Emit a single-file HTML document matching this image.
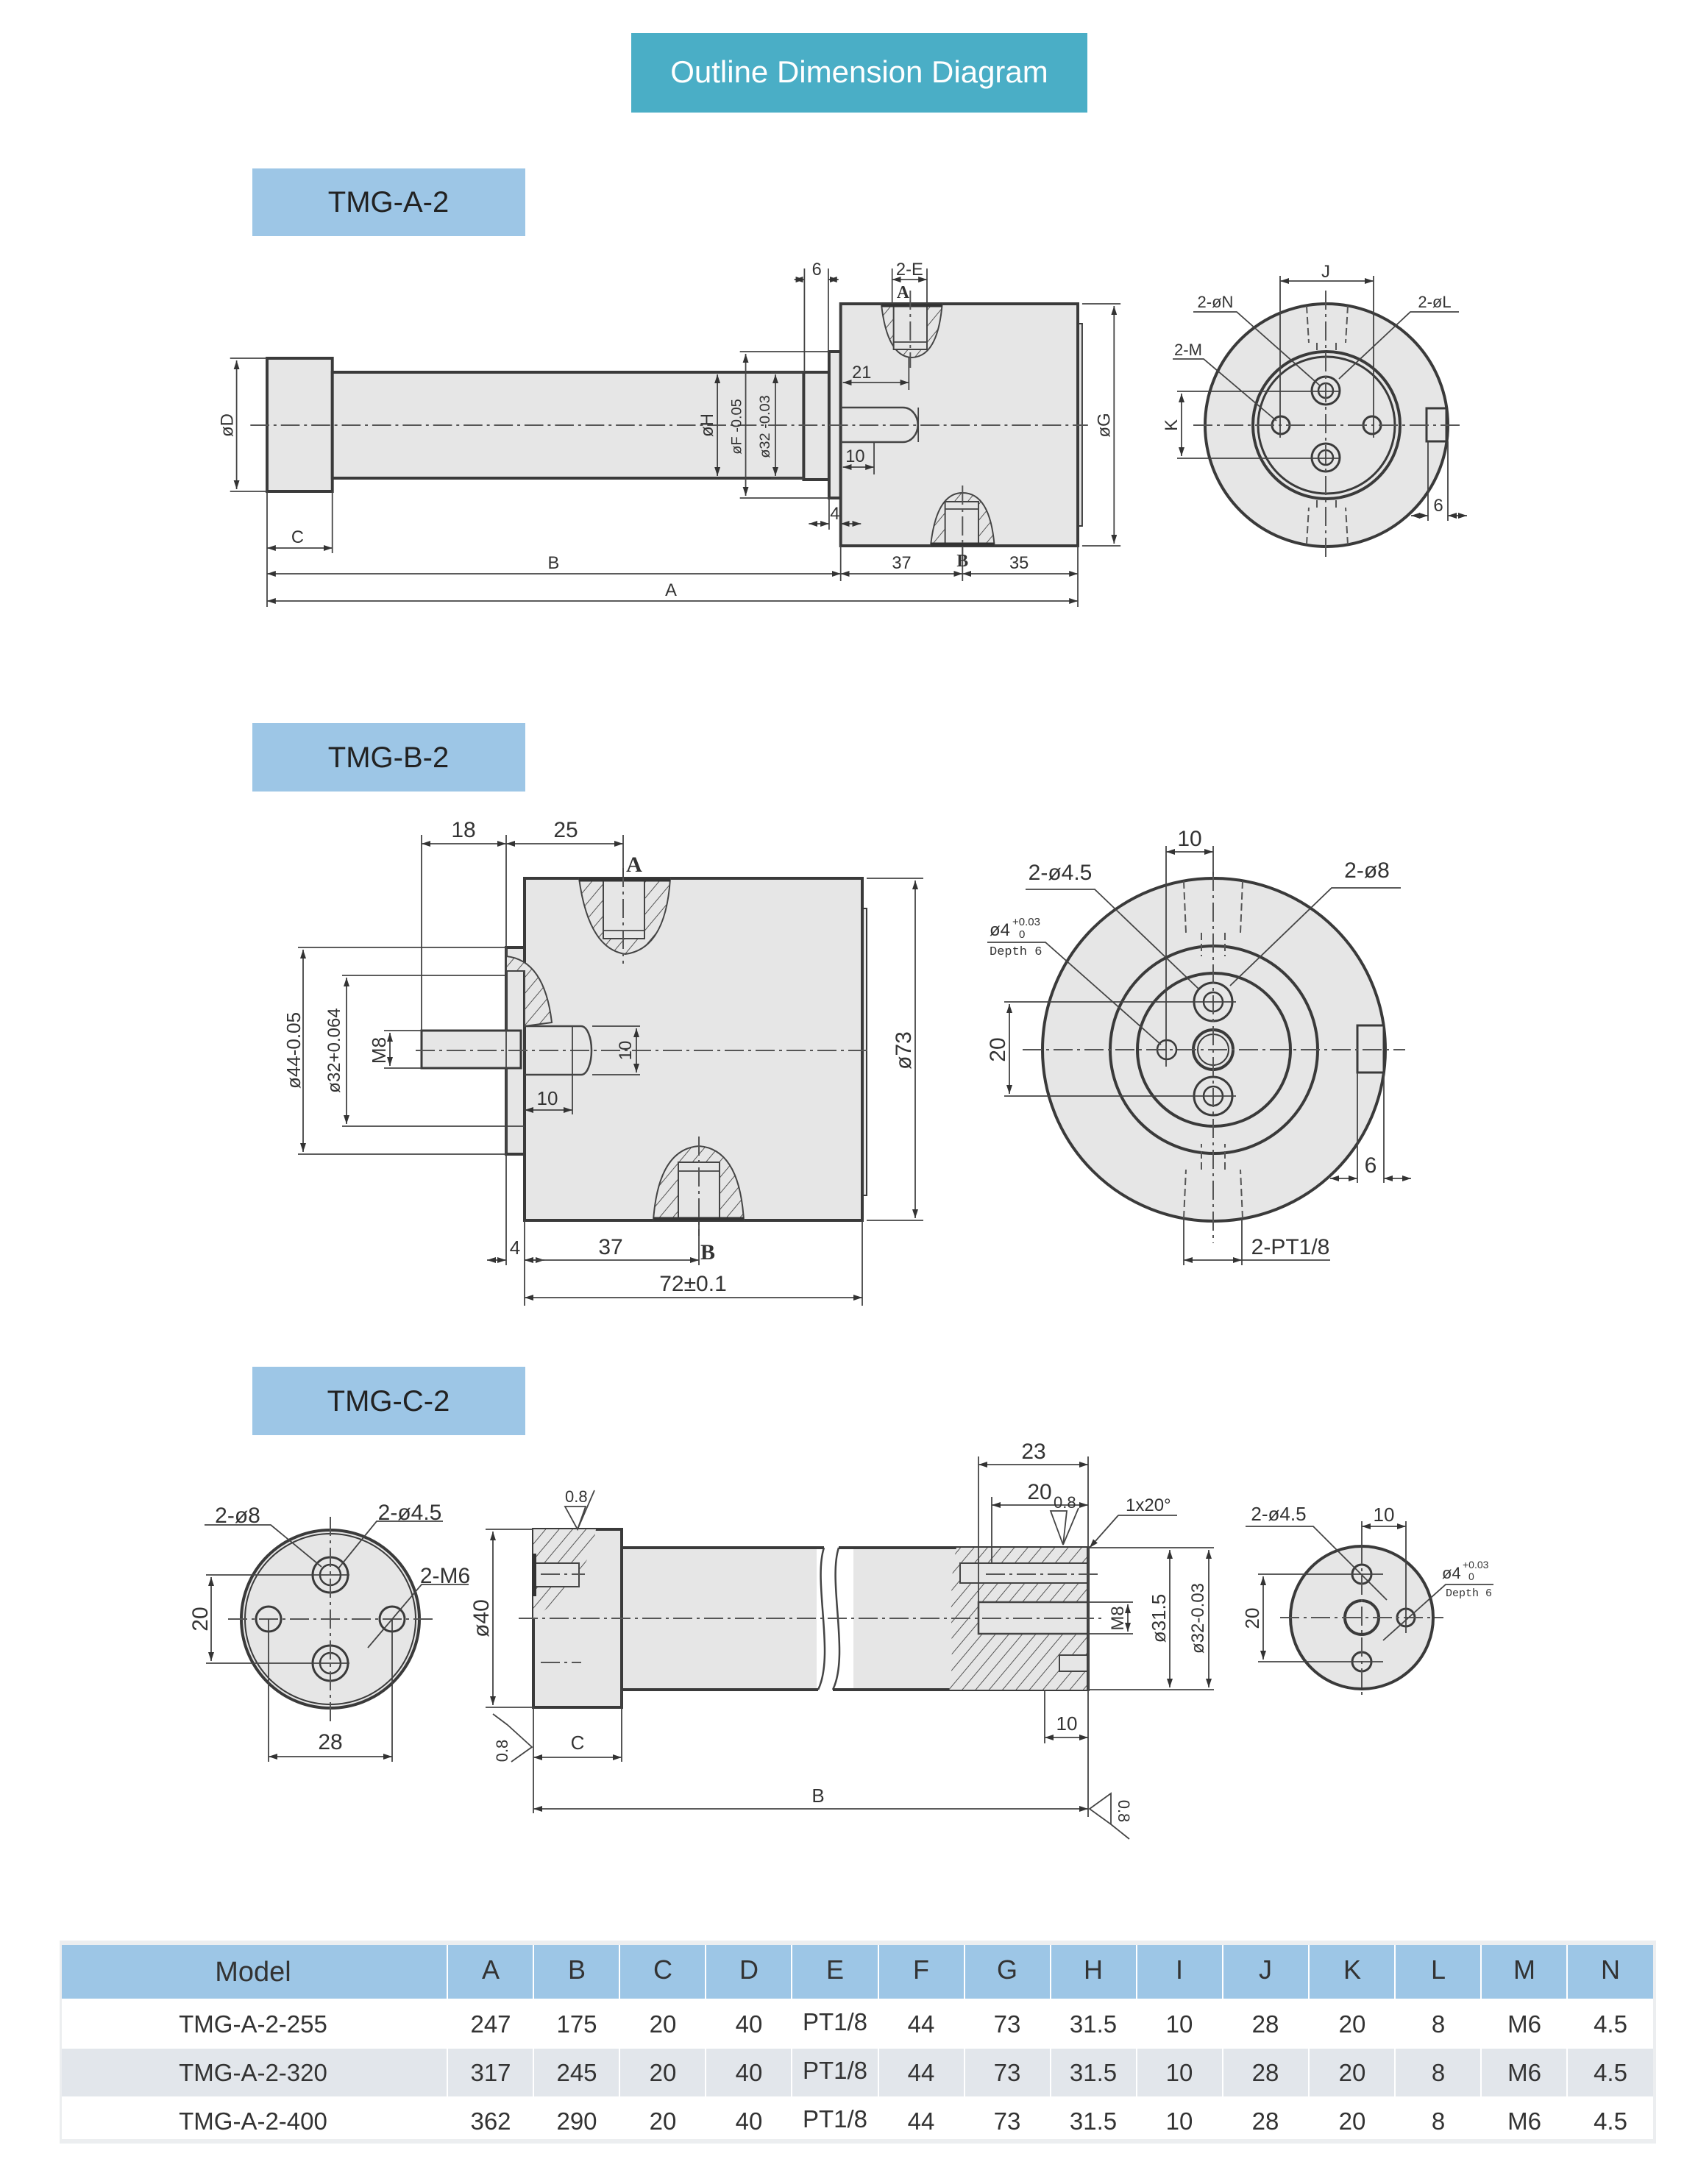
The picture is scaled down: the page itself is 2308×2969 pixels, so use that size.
<!DOCTYPE html>
<html><head><meta charset="utf-8"><style>
html,body{margin:0;padding:0;background:#fff;}
svg{display:block;}
text{font-family:"Liberation Sans",sans-serif;fill:#333;}
.o{fill:#e6e6e6;stroke:#3a3a3a;stroke-width:4;}
.l{stroke:#444;stroke-width:1.8;fill:none;}
.d{stroke:#444;stroke-width:1.8;fill:none;marker-start:url(#ar);marker-end:url(#ar);}
.c{stroke:#555;stroke-width:2;fill:none;stroke-dasharray:26 6 4 6;}
.ds{stroke:#555;stroke-width:2;fill:none;stroke-dasharray:10 5;}
.t{font-size:24px;fill:#333;}
.t2{font-size:30px;fill:#333;}
.hz{fill:url(#h);stroke:#444;stroke-width:2;}
</style></head><body>
<svg width="2308" height="2969" viewBox="0 0 2308 2969" xmlns="http://www.w3.org/2000/svg">
<defs>
<marker id="ar" viewBox="0 0 12 8" refX="12" refY="4" markerWidth="12" markerHeight="8" markerUnits="userSpaceOnUse" orient="auto-start-reverse"><path d="M0,0 L12,4 L0,8 z" fill="#333"/></marker>
<pattern id="h" width="14" height="14" patternUnits="userSpaceOnUse" patternTransform="rotate(40)"><rect width="14" height="14" fill="#e6e6e6"/><line x1="0" y1="0" x2="0" y2="14" stroke="#555" stroke-width="2"/></pattern>
</defs>

<!-- Title -->
<rect x="858" y="45" width="620" height="108" fill="#4aaec6"/>
<text x="1168" y="112" text-anchor="middle" style="font-size:42px;fill:#fff">Outline Dimension Diagram</text>

<!-- Section labels -->
<rect x="343" y="229" width="371" height="92" fill="#9dc6e6"/>
<text x="528" y="288" text-anchor="middle" style="font-size:40px;fill:#222">TMG-A-2</text>
<rect x="343" y="983" width="371" height="93" fill="#9dc6e6"/>
<text x="528" y="1043" text-anchor="middle" style="font-size:40px;fill:#222">TMG-B-2</text>
<rect x="343" y="1858" width="371" height="93" fill="#9dc6e6"/>
<text x="528" y="1918" text-anchor="middle" style="font-size:40px;fill:#222">TMG-C-2</text>

<!-- ===== TMG-A-2 side view ===== -->
<g transform="translate(363,0) scale(0.9857,1) translate(-363,0)">
<rect class="o" x="363" y="487" width="90" height="181"/>
<rect class="o" x="453" y="506" width="650" height="144"/>
<rect class="o" x="1103" y="506" width="35" height="146"/>
<rect class="o" x="1138" y="478" width="16" height="199"/>
<rect class="o" x="1481" y="440" width="6" height="275" style="stroke-width:2"/>
<rect class="o" x="1154" y="413" width="327" height="329"/>
<path class="hz" d="M1210,413 Q1218,485 1252,486 Q1288,485 1294,413 Z"/>
<rect x="1227" y="413" width="46" height="62" fill="#e6e6e6" stroke="#444" stroke-width="2"/>
<line class="l" x1="1227" y1="465" x2="1273" y2="465"/>
<path class="hz" d="M1278,742 Q1286,670 1322,670 Q1360,670 1366,742 Z"/>
<rect x="1298" y="682" width="46" height="60" fill="#e6e6e6" stroke="#444" stroke-width="2"/>
<line class="l" x1="1298" y1="692" x2="1344" y2="692"/>
<line x1="1278" y1="740" x2="1366" y2="740" stroke="#333" stroke-width="5"/>
<line x1="1210" y1="415" x2="1294" y2="415" stroke="#333" stroke-width="5"/>
<path class="l" style="stroke-width:2.5" d="M1154,554 H1240 A20,23 0 0 1 1240,601 H1154"/>
<line class="c" x1="340" y1="578" x2="1495" y2="578"/>
<line class="c" x1="1250" y1="395" x2="1250" y2="500"/>
<line class="c" x1="1322" y1="660" x2="1322" y2="760"/>
<line class="l" x1="312" y1="487" x2="363" y2="487"/><line class="l" x1="312" y1="668" x2="363" y2="668"/>
<line class="d" x1="321" y1="490" x2="321" y2="665"/>
<text class="t" transform="translate(316,578) rotate(-90)" text-anchor="middle">øD</text>
<line class="d" x1="984" y1="509" x2="984" y2="647"/>
<text class="t" transform="translate(978,578) rotate(-90)" text-anchor="middle">øH</text>
<line class="l" x1="1015" y1="478" x2="1138" y2="478"/><line class="l" x1="1015" y1="677" x2="1138" y2="677"/>
<line class="d" x1="1023" y1="481" x2="1023" y2="674"/>
<text class="t" style="font-size:20px" transform="translate(1017,580) rotate(-90)" text-anchor="middle">øF -0.05</text>
<line class="l" x1="1058" y1="506" x2="1103" y2="506"/><line class="l" x1="1058" y1="650" x2="1103" y2="650"/>
<line class="d" x1="1064" y1="509" x2="1064" y2="647"/>
<text class="t" style="font-size:20px" transform="translate(1056,580) rotate(-90)" text-anchor="middle">ø32 -0.03</text>
<line class="l" x1="1487" y1="413" x2="1540" y2="413"/><line class="l" x1="1487" y1="742" x2="1540" y2="742"/>
<line class="d" x1="1531" y1="416" x2="1531" y2="739"/>
<text class="t" transform="translate(1525,578) rotate(-90)" text-anchor="middle">øG</text>
<line class="l" x1="1104" y1="365" x2="1104" y2="506"/><line class="l" x1="1137" y1="365" x2="1137" y2="478"/>
<line class="d" x1="1090" y1="380" x2="1104" y2="380"/><line class="d" x1="1151" y1="380" x2="1137" y2="380"/>
<text class="t" x="1121" y="374" text-anchor="middle">6</text>
<line class="l" x1="1225" y1="365" x2="1225" y2="413"/><line class="l" x1="1273" y1="365" x2="1273" y2="413"/>
<line class="d" x1="1225" y1="380" x2="1273" y2="380"/>
<text class="t" x="1249" y="374" text-anchor="middle">2-E</text>
<text class="t" x="1240" y="405" text-anchor="middle" style="font-weight:bold;font-family:'Liberation Serif',serif">A</text>
<line class="l" x1="1248" y1="485" x2="1248" y2="530"/>
<line class="d" x1="1157" y1="520" x2="1248" y2="520"/>
<text class="t" x="1183" y="514" text-anchor="middle">21</text>
<line class="l" x1="1200" y1="601" x2="1200" y2="645"/>
<line class="d" x1="1157" y1="635" x2="1200" y2="635"/>
<text class="t" x="1174" y="628" text-anchor="middle">10</text>
<line class="l" x1="1261" y1="554" x2="1261" y2="601"/>
<line class="l" x1="1138" y1="677" x2="1138" y2="720"/>
<line class="d" x1="1110" y1="712" x2="1138" y2="712"/><line class="d" x1="1182" y1="712" x2="1154" y2="712"/>
<text class="t" x="1146" y="706" text-anchor="middle">4</text>
<line class="l" x1="363" y1="668" x2="363" y2="825"/><line class="l" x1="453" y1="668" x2="453" y2="752"/>
<line class="l" x1="1154" y1="742" x2="1154" y2="790"/><line class="l" x1="1481" y1="742" x2="1481" y2="825"/>
<line class="l" x1="1322" y1="742" x2="1322" y2="790"/>
<line class="d" x1="363" y1="745" x2="453" y2="745"/>
<text class="t" x="405" y="738" text-anchor="middle">C</text>
<line class="d" x1="363" y1="780" x2="1154" y2="780"/>
<text class="t" x="758" y="773" text-anchor="middle">B</text>
<line class="d" x1="1154" y1="780" x2="1322" y2="780"/>
<text class="t" x="1238" y="773" text-anchor="middle">37</text>
<line class="d" x1="1322" y1="780" x2="1481" y2="780"/>
<text class="t" x="1400" y="773" text-anchor="middle">35</text>
<text class="t" x="1322" y="770" text-anchor="middle" style="font-weight:bold;font-family:'Liberation Serif',serif">B</text>
<line class="d" x1="363" y1="817" x2="1481" y2="817"/>
<text class="t" x="920" y="810" text-anchor="middle">A</text>
</g>

<!-- ===== TMG-A-2 end view ===== -->
<circle class="o" cx="1803" cy="578" r="165"/>
<circle cx="1803" cy="578" r="100" fill="none" stroke="#3a3a3a" stroke-width="4"/>
<circle cx="1803" cy="578" r="93" fill="none" stroke="#3a3a3a" stroke-width="3"/>
<circle cx="1802" cy="531" r="19" fill="none" stroke="#3a3a3a" stroke-width="3"/>
<circle cx="1802" cy="531" r="10" fill="none" stroke="#3a3a3a" stroke-width="2.5"/>
<circle cx="1802" cy="622" r="19" fill="none" stroke="#3a3a3a" stroke-width="3"/>
<circle cx="1802" cy="622" r="10" fill="none" stroke="#3a3a3a" stroke-width="2.5"/>
<circle cx="1741" cy="578" r="12" fill="none" stroke="#3a3a3a" stroke-width="3"/>
<circle cx="1865" cy="578" r="12" fill="none" stroke="#3a3a3a" stroke-width="3"/>
<rect x="1939" y="555" width="27" height="45" fill="#e6e6e6" stroke="#3a3a3a" stroke-width="3"/>
<path class="ds" d="M1776,416 L1779,466 M1832,416 L1829,466 M1790,466 V476 M1816,466 V476"/>
<path class="ds" d="M1776,740 L1779,690 M1832,740 L1829,690 M1790,690 V680 M1816,690 V680"/>
<line class="c" x1="1622" y1="578" x2="1985" y2="578"/>
<line class="c" x1="1802" y1="395" x2="1802" y2="760"/>
<line class="l" x1="1740" y1="375" x2="1740" y2="595"/><line class="l" x1="1867" y1="375" x2="1867" y2="595"/>
<line class="d" x1="1740" y1="382" x2="1867" y2="382"/>
<text class="t" x="1802" y="377" text-anchor="middle">J</text>
<line class="l" x1="1600" y1="532" x2="1820" y2="532"/><line class="l" x1="1600" y1="623" x2="1820" y2="623"/>
<line class="d" x1="1606" y1="535" x2="1606" y2="620"/>
<text class="t" transform="translate(1600,578) rotate(-90)" text-anchor="middle">K</text>
<line class="l" x1="1941" y1="600" x2="1941" y2="708"/><line class="l" x1="1968" y1="600" x2="1968" y2="708"/>
<line class="d" x1="1918" y1="701" x2="1941" y2="701"/><line class="d" x1="1994" y1="701" x2="1968" y2="701"/>
<text class="t" x="1955" y="695" text-anchor="middle">6</text>
<text class="t" x="1652" y="418" text-anchor="middle" style="font-size:22px">2-øN</text>
<polyline class="l" points="1622,424 1681,424 1795,525"/>
<text class="t" x="1950" y="418" text-anchor="middle" style="font-size:22px">2-øL</text>
<polyline class="l" points="1983,424 1917,424 1820,515"/>
<text class="t" x="1615" y="483" text-anchor="middle" style="font-size:22px">2-M</text>
<polyline class="l" points="1594,488 1636,488 1735,572"/>

<!-- ===== TMG-B-2 side view ===== -->
<rect class="o" x="688" y="1288" width="25" height="281"/>
<rect class="o" x="1172" y="1235" width="6" height="390" style="stroke-width:2"/>
<rect class="o" x="713" y="1194" width="459" height="465"/>
<rect class="o" x="573" y="1401" width="135" height="51" style="stroke-width:3"/>
<path class="hz" d="M688,1300 Q740,1305 750,1390 L713,1395 L713,1320 L688,1320 Z"/>
<path class="l" style="stroke-width:2.5" d="M713,1395 H790 A14,33 0 0 1 790,1461 H713"/>
<path class="hz" d="M787,1194 Q800,1290 850,1297 Q905,1290 911,1194 Z"/>
<rect x="820" y="1194" width="56" height="82" fill="#e6e6e6" stroke="#444" stroke-width="2"/>
<line class="l" x1="820" y1="1265" x2="876" y2="1265"/>
<line x1="787" y1="1196" x2="911" y2="1196" stroke="#333" stroke-width="5"/>
<path class="hz" d="M888,1659 Q895,1562 950,1558 Q1005,1562 1011,1659 Z"/>
<rect x="922" y="1580" width="56" height="79" fill="#e6e6e6" stroke="#444" stroke-width="2"/>
<line class="l" x1="922" y1="1592" x2="978" y2="1592"/>
<line x1="888" y1="1657" x2="1011" y2="1657" stroke="#333" stroke-width="5"/>
<line class="c" x1="565" y1="1428" x2="1185" y2="1428"/>
<line class="c" x1="847" y1="1180" x2="847" y2="1310"/>
<line class="c" x1="950" y1="1545" x2="950" y2="1680"/>
<line class="l" x1="573" y1="1135" x2="573" y2="1401"/><line class="l" x1="688" y1="1135" x2="688" y2="1720"/>
<line class="l" x1="847" y1="1135" x2="847" y2="1194"/>
<line class="d" x1="573" y1="1147" x2="688" y2="1147"/>
<text class="t2" x="630" y="1138" text-anchor="middle">18</text>
<line class="d" x1="688" y1="1147" x2="847" y2="1147"/>
<text class="t2" x="769" y="1138" text-anchor="middle">25</text>
<text class="t2" x="862" y="1185" text-anchor="middle" style="font-weight:bold;font-family:'Liberation Serif',serif">A</text>
<text class="t2" x="962" y="1712" text-anchor="middle" style="font-weight:bold;font-family:'Liberation Serif',serif">B</text>
<line class="l" x1="405" y1="1288" x2="688" y2="1288"/><line class="l" x1="405" y1="1569" x2="688" y2="1569"/>
<line class="d" x1="412" y1="1291" x2="412" y2="1566"/>
<text class="t2" style="font-size:26px" transform="translate(408,1428) rotate(-90)" text-anchor="middle">ø44-0.05</text>
<line class="l" x1="465" y1="1326" x2="688" y2="1326"/><line class="l" x1="465" y1="1531" x2="713" y2="1531"/>
<line class="d" x1="471" y1="1329" x2="471" y2="1528"/>
<text class="t2" style="font-size:24px" transform="translate(462,1428) rotate(-90)" text-anchor="middle">ø32+0.064</text>
<line class="l" x1="522" y1="1401" x2="573" y2="1401"/><line class="l" x1="522" y1="1452" x2="573" y2="1452"/>
<line class="d" x1="530" y1="1404" x2="530" y2="1449"/>
<text class="t2" style="font-size:26px" transform="translate(524,1428) rotate(-90)" text-anchor="middle">M8</text>
<line class="l" x1="805" y1="1395" x2="870" y2="1395"/><line class="l" x1="805" y1="1461" x2="870" y2="1461"/>
<line class="d" x1="865" y1="1398" x2="865" y2="1458"/>
<text class="t2" style="font-size:24px" transform="translate(858,1428) rotate(-90)" text-anchor="middle">10</text>
<line class="l" x1="778" y1="1395" x2="778" y2="1515"/>
<line class="d" x1="713" y1="1509" x2="778" y2="1509"/>
<text class="t2" x="744" y="1502" text-anchor="middle" style="font-size:26px">10</text>
<line class="l" x1="1178" y1="1194" x2="1255" y2="1194"/><line class="l" x1="1178" y1="1659" x2="1255" y2="1659"/>
<line class="d" x1="1244" y1="1197" x2="1244" y2="1656"/>
<text class="t2" transform="translate(1238,1428) rotate(-90)" text-anchor="middle">ø73</text>
<line class="l" x1="713" y1="1659" x2="713" y2="1775"/><line class="l" x1="1172" y1="1659" x2="1172" y2="1775"/>
<line class="l" x1="950" y1="1659" x2="950" y2="1720"/>
<line class="d" x1="662" y1="1713" x2="688" y2="1713"/><line class="d" x1="740" y1="1713" x2="713" y2="1713"/>
<text class="t2" x="700" y="1705" text-anchor="middle" style="font-size:26px">4</text>
<line class="d" x1="713" y1="1713" x2="950" y2="1713"/>
<text class="t2" x="830" y="1705" text-anchor="middle">37</text>
<line class="d" x1="713" y1="1764" x2="1172" y2="1764"/>
<text class="t2" x="942" y="1755" text-anchor="middle">72±0.1</text>

<!-- ===== TMG-B-2 end view ===== -->
<circle class="o" cx="1650" cy="1427" r="233"/>
<circle cx="1650" cy="1427" r="141" fill="none" stroke="#3a3a3a" stroke-width="4"/>
<circle cx="1650" cy="1427" r="104" fill="none" stroke="#3a3a3a" stroke-width="4"/>
<circle cx="1649" cy="1427" r="27" fill="none" stroke="#3a3a3a" stroke-width="4"/>
<circle cx="1649" cy="1427" r="21" fill="none" stroke="#3a3a3a" stroke-width="2"/>
<circle cx="1649" cy="1362" r="26" fill="none" stroke="#3a3a3a" stroke-width="3"/>
<circle cx="1649" cy="1362" r="13" fill="none" stroke="#3a3a3a" stroke-width="2.5"/>
<circle cx="1649" cy="1490" r="26" fill="none" stroke="#3a3a3a" stroke-width="3"/>
<circle cx="1649" cy="1490" r="13" fill="none" stroke="#3a3a3a" stroke-width="2.5"/>
<circle cx="1586" cy="1427" r="13" fill="none" stroke="#3a3a3a" stroke-width="2.5"/>
<rect x="1845" y="1394" width="36" height="64" fill="#e6e6e6" stroke="#3a3a3a" stroke-width="3"/>
<path class="ds" d="M1609,1198 L1612,1268 M1689,1198 L1686,1268 M1633,1268 V1300 M1665,1268 V1300"/>
<path class="ds" d="M1609,1656 L1612,1590 M1689,1656 L1686,1590 M1633,1590 V1555 M1665,1590 V1555"/>
<line class="c" x1="1390" y1="1427" x2="1910" y2="1427"/>
<line class="c" x1="1649" y1="1185" x2="1649" y2="1690"/>
<line class="l" x1="1585" y1="1150" x2="1585" y2="1450"/><line class="l" x1="1649" y1="1150" x2="1649" y2="1190"/>
<line class="d" x1="1585" y1="1158" x2="1649" y2="1158"/>
<text class="t2" x="1617" y="1150" text-anchor="middle">10</text>
<line class="l" x1="1365" y1="1362" x2="1680" y2="1362"/><line class="l" x1="1365" y1="1490" x2="1680" y2="1490"/>
<line class="d" x1="1372" y1="1365" x2="1372" y2="1487"/>
<text class="t2" transform="translate(1366,1427) rotate(-90)" text-anchor="middle">20</text>
<line class="l" x1="1845" y1="1458" x2="1845" y2="1608"/><line class="l" x1="1881" y1="1458" x2="1881" y2="1608"/>
<line class="d" x1="1808" y1="1602" x2="1845" y2="1602"/><line class="d" x1="1918" y1="1602" x2="1881" y2="1602"/>
<text class="t2" x="1863" y="1594" text-anchor="middle">6</text>
<line class="l" x1="1609" y1="1656" x2="1609" y2="1720"/><line class="l" x1="1688" y1="1656" x2="1688" y2="1720"/>
<line class="d" x1="1609" y1="1713" x2="1688" y2="1713"/>
<line class="l" x1="1688" y1="1713" x2="1808" y2="1713"/>
<text class="t2" x="1754" y="1705" text-anchor="middle">2-PT1/8</text>
<text class="t2" x="1441" y="1196" text-anchor="middle">2-ø4.5</text>
<polyline class="l" points="1394,1209 1488,1209 1630,1345"/>
<text class="t2" x="1858" y="1193" text-anchor="middle">2-ø8</text>
<polyline class="l" points="1904,1207 1810,1207 1672,1340"/>
<text x="1345" y="1272" style="font-size:24px;fill:#333">ø4</text>
<text x="1376" y="1258" style="font-size:15px;fill:#333">+0.03</text>
<text x="1385" y="1275" style="font-size:15px;fill:#333">0</text>
<text x="1345" y="1298" style="font-size:17px;fill:#333;font-family:'Liberation Mono',monospace">Depth 6</text>
<polyline class="l" points="1342,1281 1421,1281 1578,1420"/>

<!-- ===== TMG-C-2 end view left ===== -->
<circle class="o" cx="449" cy="2201" r="121"/>
<circle cx="449" cy="2201" r="116" fill="none" stroke="#3a3a3a" stroke-width="2"/>
<circle cx="449" cy="2141" r="24" fill="none" stroke="#3a3a3a" stroke-width="3"/>
<circle cx="449" cy="2141" r="14" fill="none" stroke="#3a3a3a" stroke-width="2.5"/>
<circle cx="449" cy="2261" r="24" fill="none" stroke="#3a3a3a" stroke-width="3"/>
<circle cx="449" cy="2261" r="14" fill="none" stroke="#3a3a3a" stroke-width="2.5"/>
<circle cx="365" cy="2201" r="17" fill="none" stroke="#3a3a3a" stroke-width="3"/>
<circle cx="533" cy="2201" r="17" fill="none" stroke="#3a3a3a" stroke-width="3"/>
<line class="c" x1="310" y1="2201" x2="588" y2="2201"/>
<line class="c" x1="449" y1="2062" x2="449" y2="2340"/>
<line class="l" x1="280" y1="2141" x2="475" y2="2141"/><line class="l" x1="280" y1="2261" x2="475" y2="2261"/>
<line class="d" x1="287" y1="2144" x2="287" y2="2258"/>
<text class="t2" transform="translate(282,2201) rotate(-90)" text-anchor="middle">20</text>
<line class="l" x1="365" y1="2201" x2="365" y2="2395"/><line class="l" x1="533" y1="2201" x2="533" y2="2395"/>
<line class="d" x1="365" y1="2388" x2="533" y2="2388"/>
<text class="t2" x="449" y="2378" text-anchor="middle">28</text>
<text class="t2" x="323" y="2070" text-anchor="middle">2-ø8</text>
<polyline class="l" points="278,2073 368,2073 437,2130"/>
<text class="t2" x="557" y="2066" text-anchor="middle">2-ø4.5</text>
<polyline class="l" points="602,2068 512,2068 460,2132"/>
<text class="t2" x="605" y="2152" text-anchor="middle">2-M6</text>
<polyline class="l" points="637,2154 573,2154 500,2240"/>

<!-- ===== TMG-C-2 side view ===== -->
<rect class="o" x="845" y="2104" width="275" height="193"/>
<rect class="o" x="1153" y="2104" width="326" height="193"/>
<rect x="1110" y="2100" width="50" height="200" fill="#fff"/>
<path d="M1120,2104 C1105,2150 1135,2250 1112,2297" fill="none" stroke="#444" stroke-width="2.5"/>
<path d="M1140,2104 C1125,2150 1155,2250 1132,2297" fill="none" stroke="#444" stroke-width="2.5"/>
<line x1="845" y1="2104" x2="1120" y2="2104" stroke="#3a3a3a" stroke-width="4"/>
<line x1="845" y1="2297" x2="1112" y2="2297" stroke="#3a3a3a" stroke-width="4"/>
<line x1="1140" y1="2104" x2="1479" y2="2104" stroke="#3a3a3a" stroke-width="4"/>
<line x1="1132" y1="2297" x2="1479" y2="2297" stroke="#3a3a3a" stroke-width="4"/>
<path d="M1300,2104 H1479 V2297 H1290 C1300,2250 1285,2170 1300,2104 Z" fill="url(#h)" stroke="none"/>
<rect x="1305" y="2125" width="174" height="27" fill="#e6e6e6" stroke="#444" stroke-width="2"/>
<rect x="1330" y="2178" width="149" height="43" fill="#e6e6e6" stroke="#444" stroke-width="2.5"/>
<rect x="1440" y="2250" width="39" height="22" fill="#e6e6e6" stroke="#444" stroke-width="2"/>
<line x1="1479" y1="2104" x2="1479" y2="2297" stroke="#3a3a3a" stroke-width="4"/>
<rect class="o" x="725" y="2079" width="120" height="242"/>
<path d="M725,2079 H810 Q800,2150 725,2200 Z" fill="url(#h)" stroke="none"/>
<rect x="727" y="2125" width="60" height="32" fill="#e6e6e6" stroke="#444" stroke-width="2"/>
<rect x="723" y="2112" width="6" height="58" fill="#333"/>
<line class="c" x1="705" y1="2200" x2="1500" y2="2200"/>
<line class="c" x1="735" y1="2140" x2="795" y2="2140"/>
<line class="c" x1="735" y1="2260" x2="790" y2="2260"/>
<line class="c" x1="1340" y1="2140" x2="1492" y2="2140"/>
<line class="l" x1="660" y1="2079" x2="725" y2="2079"/><line class="l" x1="660" y1="2321" x2="725" y2="2321"/>
<line class="d" x1="670" y1="2082" x2="670" y2="2318"/>
<text class="t2" transform="translate(664,2200) rotate(-90)" text-anchor="middle">ø40</text>
<line class="l" x1="1479" y1="2104" x2="1650" y2="2104"/><line class="l" x1="1479" y1="2297" x2="1650" y2="2297"/>
<line class="d" x1="1590" y1="2107" x2="1590" y2="2294"/>
<text class="t2" style="font-size:26px" transform="translate(1584,2200) rotate(-90)" text-anchor="middle">ø31.5</text>
<line class="d" x1="1643" y1="2107" x2="1643" y2="2294"/>
<text class="t2" style="font-size:24px" transform="translate(1636,2200) rotate(-90)" text-anchor="middle">ø32-0.03</text>
<line class="l" x1="1479" y1="2178" x2="1540" y2="2178"/><line class="l" x1="1479" y1="2221" x2="1540" y2="2221"/>
<line class="d" x1="1533" y1="2181" x2="1533" y2="2218"/>
<text class="t2" style="font-size:24px" transform="translate(1527,2200) rotate(-90)" text-anchor="middle">M8</text>
<line class="l" x1="1330" y1="1980" x2="1330" y2="2178"/><line class="l" x1="1348" y1="2035" x2="1348" y2="2125"/>
<line class="l" x1="1479" y1="1980" x2="1479" y2="2470"/>
<line class="d" x1="1330" y1="1991" x2="1479" y2="1991"/>
<text class="t2" x="1405" y="1983" text-anchor="middle">23</text>
<line class="d" x1="1348" y1="2046" x2="1479" y2="2046"/>
<text class="t2" x="1413" y="2038" text-anchor="middle">20</text>
<text class="t2" x="1530" y="2054" style="font-size:24px">1x20°</text>
<line class="l" x1="1520" y1="2060" x2="1600" y2="2060"/>
<line class="l" x1="1520" y1="2060" x2="1481" y2="2104" style="marker-end:url(#ar)"/>
<path class="l" d="M1428,2054 H1450 L1445,2100 Z M1445,2100 L1466,2050" />
<text class="t" x="1432" y="2050" style="font-size:22px">0.8</text>
<path class="l" d="M768,2048 H796 L785,2079 Z M785,2079 L808,2026"/>
<text class="t" x="768" y="2042" style="font-size:22px">0.8</text>
<line class="l" x1="1420" y1="2297" x2="1420" y2="2370"/>
<line class="d" x1="1420" y1="2362" x2="1479" y2="2362"/>
<text class="t2" x="1450" y="2352" text-anchor="middle" style="font-size:26px">10</text>
<line class="l" x1="725" y1="2321" x2="725" y2="2465"/><line class="l" x1="845" y1="2297" x2="845" y2="2395"/>
<line class="d" x1="725" y1="2389" x2="845" y2="2389"/>
<text class="t2" x="785" y="2378" text-anchor="middle" style="font-size:26px">C</text>
<line class="d" x1="725" y1="2459" x2="1479" y2="2459"/>
<text class="t2" x="1112" y="2450" text-anchor="middle" style="font-size:26px">B</text>
<path class="l" d="M690,2345 L723,2375 L695,2395 M690,2345 L670,2330"/>
<text class="t" style="font-size:22px" transform="translate(690,2380) rotate(-90)" text-anchor="middle">0.8</text>
<path class="l" d="M1481,2459 L1510,2438 V2480 Z M1510,2480 L1535,2500"/>
<text class="t" style="font-size:22px" transform="translate(1520,2462) rotate(90)" text-anchor="middle">0.8</text>

<!-- ===== TMG-C-2 end view right ===== -->
<circle class="o" cx="1851" cy="2199" r="97"/>
<circle cx="1851" cy="2199" r="23" fill="none" stroke="#3a3a3a" stroke-width="4"/>
<circle cx="1851" cy="2140" r="13" fill="none" stroke="#3a3a3a" stroke-width="3"/>
<circle cx="1851" cy="2259" r="13" fill="none" stroke="#3a3a3a" stroke-width="3"/>
<circle cx="1911" cy="2199" r="12" fill="none" stroke="#3a3a3a" stroke-width="3"/>
<line class="c" x1="1740" y1="2199" x2="1962" y2="2199"/>
<line class="c" x1="1851" y1="2100" x2="1851" y2="2310"/>
<line class="l" x1="1710" y1="2140" x2="1880" y2="2140"/><line class="l" x1="1710" y1="2259" x2="1880" y2="2259"/>
<line class="d" x1="1717" y1="2143" x2="1717" y2="2256"/>
<text class="t2" transform="translate(1711,2200) rotate(-90)" text-anchor="middle" style="font-size:26px">20</text>
<line class="l" x1="1851" y1="2068" x2="1851" y2="2105"/><line class="l" x1="1911" y1="2068" x2="1911" y2="2220"/>
<line class="d" x1="1851" y1="2075" x2="1911" y2="2075"/>
<text class="t2" x="1881" y="2068" text-anchor="middle" style="font-size:26px">10</text>
<text class="t2" x="1738" y="2067" text-anchor="middle" style="font-size:26px">2-ø4.5</text>
<polyline class="l" points="1693,2075 1785,2075 1885,2175"/>
<text x="1960" y="2146" style="font-size:22px;fill:#333">ø4</text>
<text x="1988" y="2132" style="font-size:14px;fill:#333">+0.03</text>
<text x="1996" y="2148" style="font-size:14px;fill:#333">0</text>
<text x="1965" y="2170" style="font-size:15px;fill:#333;font-family:'Liberation Mono',monospace">Depth 6</text>
<polyline class="l" points="2030,2154 1965,2154 1880,2230"/>

<!-- ===== Table ===== -->
<rect x="81" y="2638" width="2170" height="276" fill="#eceef0"/>
<rect x="84" y="2644" width="2163" height="73" fill="#9dc6e6"/>
<rect x="84" y="2717" width="2163" height="68" fill="#fff"/>
<rect x="84" y="2785" width="2163" height="65" fill="#e2e6eb"/>
<rect x="84" y="2850" width="2163" height="58" fill="#fff"/>
<g stroke="#fff" stroke-width="2">
<line x1="608" y1="2644" x2="608" y2="2908"/><line x1="725" y1="2644" x2="725" y2="2908"/><line x1="842" y1="2644" x2="842" y2="2908"/><line x1="959" y1="2644" x2="959" y2="2908"/><line x1="1076" y1="2644" x2="1076" y2="2908"/><line x1="1194" y1="2644" x2="1194" y2="2908"/><line x1="1311" y1="2644" x2="1311" y2="2908"/><line x1="1428" y1="2644" x2="1428" y2="2908"/><line x1="1545" y1="2644" x2="1545" y2="2908"/><line x1="1662" y1="2644" x2="1662" y2="2908"/><line x1="1779" y1="2644" x2="1779" y2="2908"/><line x1="1896" y1="2644" x2="1896" y2="2908"/><line x1="2013" y1="2644" x2="2013" y2="2908"/><line x1="2130" y1="2644" x2="2130" y2="2908"/>
</g>
<g text-anchor="middle" style="font-size:36px;fill:#222">
<text x="344" y="2693" style="font-size:38px">Model</text>
<text x="667" y="2690">A</text><text x="784" y="2690">B</text><text x="901" y="2690">C</text><text x="1018" y="2690">D</text><text x="1135" y="2690">E</text><text x="1252" y="2690">F</text><text x="1369" y="2690">G</text><text x="1486" y="2690">H</text><text x="1603" y="2690">I</text><text x="1720" y="2690">J</text><text x="1838" y="2690">K</text><text x="1955" y="2690">L</text><text x="2072" y="2690">M</text><text x="2189" y="2690">N</text>
</g>
<g text-anchor="middle" style="font-size:33px;fill:#222">
<text x="344" y="2763">TMG-A-2-255</text>
<text x="667" y="2763">247</text><text x="784" y="2763">175</text><text x="901" y="2763">20</text><text x="1018" y="2763">40</text><text x="1135" y="2760">PT1/8</text><text x="1252" y="2763">44</text><text x="1369" y="2763">73</text><text x="1486" y="2763">31.5</text><text x="1603" y="2763">10</text><text x="1720" y="2763">28</text><text x="1838" y="2763">20</text><text x="1955" y="2763">8</text><text x="2072" y="2763">M6</text><text x="2189" y="2763">4.5</text>
<text x="344" y="2829">TMG-A-2-320</text>
<text x="667" y="2829">317</text><text x="784" y="2829">245</text><text x="901" y="2829">20</text><text x="1018" y="2829">40</text><text x="1135" y="2826">PT1/8</text><text x="1252" y="2829">44</text><text x="1369" y="2829">73</text><text x="1486" y="2829">31.5</text><text x="1603" y="2829">10</text><text x="1720" y="2829">28</text><text x="1838" y="2829">20</text><text x="1955" y="2829">8</text><text x="2072" y="2829">M6</text><text x="2189" y="2829">4.5</text>
<text x="344" y="2895">TMG-A-2-400</text>
<text x="667" y="2895">362</text><text x="784" y="2895">290</text><text x="901" y="2895">20</text><text x="1018" y="2895">40</text><text x="1135" y="2892">PT1/8</text><text x="1252" y="2895">44</text><text x="1369" y="2895">73</text><text x="1486" y="2895">31.5</text><text x="1603" y="2895">10</text><text x="1720" y="2895">28</text><text x="1838" y="2895">20</text><text x="1955" y="2895">8</text><text x="2072" y="2895">M6</text><text x="2189" y="2895">4.5</text>
</g>
</svg>
</body></html>
